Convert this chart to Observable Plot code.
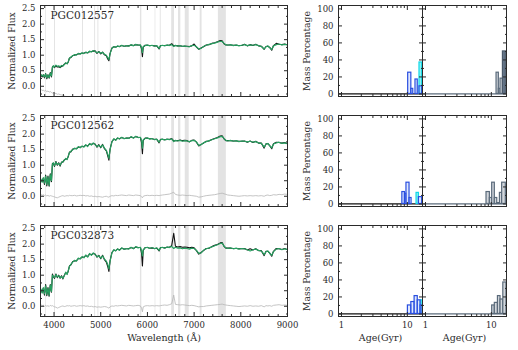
<!DOCTYPE html>
<html><head><meta charset="utf-8">
<script src="https://cdn.jsdelivr.net/npm/d3@7"></script>
<script src="https://cdn.jsdelivr.net/npm/@observablehq/plot@0.6"></script>
<style>
body{margin:0;background:#fff;}
#fig{position:relative;width:518px;height:350px;overflow:hidden;font-family:"DejaVu Serif",serif;}
</style></head><body><div id="fig"></div>
<script>
// ---------- data ----------
const galaxyNames = ["PGC012557", "PGC012562", "PGC032873"];
const waveTicks = [4000, 5000, 6000, 7000, 8000, 9000];
const fluxTicks = [0, 0.5, 1, 1.5, 2, 2.5];
const pctTicks = [0, 20, 40, 60, 80, 100];
const ageTicks = [1, 10];

const wave = [
 3720,3745,3770,3795,3820,3845,3870,3895,3920,3945,
 3965,3985,4010,4040,4070,4100,4130,4160,4190,4220,
 4250,4280,4305,4330,4360,4400,4440,4480,4520,4560,
 4600,4640,4680,4720,4760,4800,4840,4880,4920,4960,
 5000,5040,5080,5120,5150,5175,5200,5240,5280,5320,
 5360,5400,5450,5500,5550,5600,5650,5700,5750,5800,
 5850,5875,5893,5910,5950,6000,6050,6100,6150,6200,
 6250,6280,6320,6370,6420,6470,6520,6563,6600,6650,
 6700,6750,6800,6850,6900,6950,7000,7050,7100,7150,
 7200,7260,7320,7380,7440,7500,7560,7600,7640,7680,
 7720,7780,7840,7900,7960,8020,8080,8140,8200,8260,
 8320,8380,8440,8500,8540,8580,8620,8662,8700,8760,
 8820,8880,8940,9000];

const obs1 = [
 0.36,0.30,0.37,0.27,0.41,0.24,0.37,0.26,0.44,0.30,
 0.62,0.65,0.60,0.66,0.62,0.63,0.60,0.64,0.66,0.71,
 0.74,0.73,0.78,0.91,0.92,0.99,1.00,1.02,1.04,1.05,
 1.06,1.07,1.09,1.08,1.11,1.12,1.13,1.14,1.06,1.12,
 1.04,1.10,1.01,0.98,0.88,0.82,1.06,1.23,1.27,1.26,
 1.29,1.28,1.31,1.29,1.30,1.30,1.33,1.31,1.34,1.33,
 1.32,1.20,0.95,1.26,1.32,1.32,1.31,1.31,1.30,1.30,
 1.20,1.31,1.31,1.31,1.32,1.32,1.37,1.30,1.31,1.30,
 1.30,1.29,1.29,1.29,1.28,1.30,1.36,1.26,1.19,1.23,
 1.27,1.33,1.34,1.38,1.40,1.43,1.47,1.46,1.37,1.33,
 1.33,1.33,1.32,1.32,1.31,1.31,1.35,1.30,1.34,1.31,
 1.35,1.30,1.29,1.19,1.28,1.29,1.25,1.16,1.31,1.38,
 1.35,1.34,1.36,1.33];
const mod1 = [
 0.38,0.33,0.36,0.30,0.40,0.27,0.36,0.28,0.42,0.33,
 0.60,0.66,0.62,0.68,0.64,0.66,0.62,0.67,0.65,0.70,
 0.76,0.72,0.80,0.90,0.94,0.98,1.02,1.00,1.06,1.03,
 1.08,1.05,1.10,1.07,1.13,1.10,1.15,1.12,1.08,1.11,
 1.06,1.09,1.03,1.00,0.92,0.86,1.05,1.22,1.28,1.25,
 1.30,1.27,1.32,1.28,1.31,1.29,1.34,1.30,1.35,1.32,
 1.33,1.25,1.08,1.28,1.31,1.33,1.30,1.32,1.29,1.31,
 1.22,1.30,1.32,1.30,1.33,1.31,1.34,1.28,1.32,1.29,
 1.31,1.28,1.30,1.28,1.27,1.31,1.32,1.27,1.20,1.22,
 1.28,1.32,1.35,1.37,1.39,1.42,1.45,1.44,1.38,1.34,
 1.32,1.34,1.31,1.33,1.30,1.32,1.34,1.31,1.33,1.32,
 1.34,1.31,1.28,1.20,1.27,1.30,1.24,1.18,1.30,1.34,
 1.36,1.33,1.35,1.34];
const res1 = [
 -0.10,-0.14,-0.12,-0.16,-0.13,-0.18,-0.15,-0.19,-0.17,-0.20,
 -0.22,-0.21,-0.24,-0.23,-0.26,-0.25,-0.27,-0.28,-0.29,-0.31,
 -0.33,-0.34,-0.36,-0.38,-0.40,-0.42,-0.43,-0.44,-0.45,-0.45,
 -0.46,-0.47,-0.46,-0.48,-0.47,-0.49,-0.48,-0.47,-0.49,-0.48,
 -0.49,-0.48,-0.50,-0.49,-0.51,-0.52,-0.50,-0.48,-0.49,-0.48,
 -0.47,-0.48,-0.47,-0.46,-0.47,-0.48,-0.47,-0.46,-0.47,-0.46,
 -0.47,-0.50,-0.55,-0.48,-0.47,-0.46,-0.47,-0.46,-0.47,-0.46,
 -0.47,-0.46,-0.45,-0.44,-0.45,-0.44,-0.43,-0.42,-0.44,-0.45,
 -0.44,-0.45,-0.44,-0.45,-0.46,-0.45,-0.44,-0.46,-0.48,-0.47,
 -0.46,-0.45,-0.44,-0.43,-0.42,-0.41,-0.40,-0.40,-0.42,-0.44,
 -0.45,-0.46,-0.45,-0.46,-0.47,-0.46,-0.45,-0.46,-0.45,-0.46,
 -0.45,-0.46,-0.45,-0.48,-0.46,-0.45,-0.47,-0.48,-0.45,-0.44,
 -0.43,-0.44,-0.43,-0.44];

const obs2 = [
 0.52,0.48,0.58,0.38,0.68,0.33,0.65,0.32,0.72,0.47,
 1.05,1.06,0.96,1.12,1.00,1.08,0.97,1.10,1.10,1.17,
 1.20,1.20,1.28,1.42,1.43,1.52,1.53,1.54,1.58,1.58,
 1.60,1.60,1.64,1.62,1.68,1.67,1.70,1.68,1.58,1.66,
 1.56,1.67,1.53,1.46,1.30,1.16,1.52,1.76,1.84,1.81,
 1.87,1.85,1.89,1.86,1.87,1.87,1.91,1.88,1.92,1.90,
 1.89,1.72,1.37,1.80,1.87,1.87,1.85,1.85,1.83,1.83,
 1.72,1.83,1.83,1.82,1.83,1.83,1.86,1.78,1.79,1.79,
 1.81,1.79,1.80,1.79,1.75,1.80,1.81,1.74,1.62,1.67,
 1.71,1.77,1.78,1.83,1.86,1.89,1.94,1.95,1.85,1.79,
 1.79,1.79,1.78,1.78,1.77,1.77,1.78,1.74,1.78,1.73,
 1.77,1.71,1.71,1.55,1.69,1.69,1.63,1.53,1.69,1.74,
 1.73,1.71,1.73,1.69];
const mod2 = [
 0.55,0.45,0.60,0.42,0.65,0.38,0.62,0.35,0.70,0.50,
 1.02,1.08,0.98,1.10,1.02,1.06,1.00,1.08,1.12,1.15,
 1.22,1.18,1.30,1.40,1.45,1.50,1.55,1.52,1.60,1.56,
 1.62,1.58,1.66,1.60,1.70,1.65,1.72,1.66,1.60,1.64,
 1.58,1.65,1.55,1.48,1.35,1.22,1.50,1.75,1.85,1.80,
 1.88,1.84,1.90,1.85,1.88,1.86,1.92,1.87,1.93,1.89,
 1.90,1.80,1.55,1.82,1.86,1.88,1.84,1.86,1.82,1.84,
 1.74,1.82,1.84,1.81,1.84,1.82,1.85,1.76,1.80,1.78,
 1.80,1.77,1.79,1.78,1.76,1.79,1.80,1.75,1.64,1.66,
 1.72,1.76,1.79,1.82,1.85,1.88,1.92,1.93,1.86,1.80,
 1.78,1.80,1.77,1.79,1.76,1.78,1.77,1.75,1.77,1.74,
 1.76,1.72,1.70,1.58,1.68,1.70,1.62,1.56,1.68,1.72,
 1.74,1.70,1.72,1.70];
const res2 = [
 0.06,0.03,0.05,0.02,0.04,0.01,0.03,0.00,0.02,0.01,
 0.00,-0.01,-0.02,-0.04,-0.05,-0.03,-0.01,0.01,0.02,0.00,
 0.01,0.02,0.01,0.03,0.02,0.02,0.03,0.01,0.02,0.03,
 0.02,0.03,0.01,0.02,0.00,0.01,-0.01,0.00,-0.02,-0.01,
 -0.02,-0.03,-0.01,0.00,-0.02,-0.03,0.00,0.02,0.01,0.03,
 0.02,0.03,0.04,0.03,0.02,0.04,0.03,0.02,0.04,0.03,
 0.02,-0.02,-0.05,0.00,0.02,0.03,0.02,0.03,0.02,0.03,
 0.02,0.03,0.04,0.05,0.06,0.07,0.10,0.13,0.06,0.04,
 0.03,0.04,0.03,0.02,0.03,0.02,0.01,0.00,-0.03,-0.02,
 0.00,0.02,0.03,0.04,0.05,0.07,0.09,0.10,0.08,0.06,
 0.04,0.03,0.02,0.01,0.00,0.01,0.02,0.01,0.02,0.01,
 0.02,0.01,0.02,0.00,0.03,0.04,0.02,0.03,0.05,0.04,
 0.06,0.05,0.07,0.06];

const obs3 = [
 0.52,0.45,0.58,0.36,0.70,0.34,0.60,0.32,0.70,0.45,
 1.04,0.95,0.90,1.04,0.92,1.00,0.90,0.98,0.88,1.00,
 1.08,1.04,1.13,1.30,1.33,1.44,1.46,1.47,1.53,1.54,
 1.58,1.58,1.63,1.60,1.68,1.66,1.70,1.68,1.58,1.64,
 1.53,1.64,1.50,1.42,1.28,1.12,1.47,1.73,1.81,1.79,
 1.84,1.81,1.87,1.84,1.85,1.85,1.89,1.86,1.91,1.89,
 1.89,1.70,1.30,1.80,1.89,1.89,1.87,1.88,1.86,1.87,
 1.78,1.89,1.89,1.88,1.90,1.90,1.95,2.35,1.93,1.91,
 1.92,1.90,1.91,1.90,1.88,1.90,1.88,1.79,1.68,1.73,
 1.79,1.86,1.87,1.92,1.96,1.99,2.04,2.05,1.93,1.87,
 1.87,1.87,1.86,1.86,1.85,1.85,1.86,1.81,1.85,1.81,
 1.85,1.79,1.79,1.63,1.77,1.77,1.71,1.61,1.77,1.86,
 1.85,1.83,1.86,1.82];
const mod3 = [
 0.55,0.42,0.60,0.40,0.66,0.38,0.58,0.35,0.68,0.48,
 1.00,0.96,0.92,1.02,0.94,0.98,0.92,0.96,0.90,0.98,
 1.10,1.02,1.15,1.28,1.35,1.42,1.48,1.45,1.55,1.52,
 1.60,1.56,1.65,1.58,1.70,1.64,1.72,1.66,1.60,1.62,
 1.55,1.62,1.52,1.45,1.35,1.20,1.45,1.72,1.82,1.78,
 1.85,1.80,1.88,1.83,1.86,1.84,1.90,1.85,1.92,1.88,
 1.90,1.78,1.62,1.82,1.88,1.90,1.86,1.89,1.85,1.88,
 1.80,1.88,1.90,1.87,1.91,1.89,1.93,1.86,1.90,1.87,
 1.88,1.85,1.87,1.86,1.84,1.87,1.86,1.80,1.70,1.72,
 1.80,1.85,1.88,1.91,1.95,1.98,2.02,2.03,1.94,1.88,
 1.86,1.88,1.85,1.87,1.84,1.86,1.85,1.82,1.78,1.82,
 1.84,1.80,1.78,1.66,1.76,1.78,1.70,1.64,1.76,1.84,
 1.86,1.82,1.85,1.83];
const res3 = [
 0.05,0.02,0.04,-0.01,0.03,0.00,0.02,-0.01,0.03,0.01,
 0.02,0.00,-0.02,-0.03,-0.06,-0.04,-0.02,0.00,0.01,-0.01,
 0.00,0.02,0.01,0.02,0.00,0.01,0.02,0.00,0.01,0.02,
 0.01,0.02,0.00,0.01,-0.01,0.00,-0.02,-0.01,-0.03,-0.02,
 -0.03,-0.02,-0.01,-0.02,-0.04,-0.06,-0.02,0.01,0.00,0.02,
 0.01,0.02,0.03,0.02,0.01,0.03,0.02,0.01,0.02,0.03,
 0.01,-0.06,-0.18,-0.02,0.01,0.02,0.01,0.02,0.01,0.02,
 0.01,0.02,0.03,0.04,0.03,0.05,0.08,0.36,0.06,0.05,
 0.04,0.05,0.04,0.03,0.02,0.03,0.02,0.00,-0.02,-0.01,
 -0.01,0.01,0.02,0.03,0.04,0.05,0.06,0.07,0.05,0.04,
 0.03,0.02,0.01,0.00,-0.01,0.00,0.01,0.00,0.02,0.00,
 0.01,0.00,0.02,-0.02,0.02,0.01,0.02,0.00,0.03,0.04,
 0.05,0.03,0.04,0.03];

// masked wavelength windows (Angstrom)
const maskLo = [3820,4010,4610,4870,4940,5205,5850,6165,6275,6520,6665,6810,7130,7520];
const maskHi = [3835,4030,4630,4890,4960,5225,5880,6180,6295,6580,6715,6895,7170,7690];

// mass fractions: [age low (Gyr), age high (Gyr), mass %]
const blue1 = [[10.3,11.5,25],[11.5,12.3,6],[13.3,14.4,17],[15.3,16.8,9]];
const cyan1 = [[15.3,16.8,37]];
const gray1 = [[12.0,13.0,25],[13.0,13.8,6],[13.8,15.0,18]];
const dark1 = [[15.0,16.6,50]];
const blue2 = [[8.4,9.2,14],[9.2,9.7,12],[9.7,10.8,25],[10.8,11.6,7],[15.0,16.8,8]];
const cyan2 = [[13.8,15.0,13]];
const gray2 = [[8.45,9.5,14],[9.5,10.3,7],[10.3,11.3,25],[11.3,12.3,7],[12.3,13.5,1],[13.5,14.6,13],[14.6,16.6,25]];
const dark2 = [];
const blue3 = [[10.2,11.5,10],[11.5,12.9,14],[12.9,14.4,21],[14.4,15.9,16],[15.9,17.0,10]];
const cyan3 = [[15.9,17.0,16]];
const gray3 = [[10.3,11.3,10],[11.3,12.6,13],[12.6,13.8,21],[13.8,15.2,17],[15.2,17.0,37]];
const dark3 = [];

// ---------- drawing ----------
const fig = document.getElementById("fig");
const FONT = "DejaVu Serif";
const INK = "#2a2a2a";
function place(el, left, top) {
  el.style.position = "absolute";
  el.style.left = left + "px";
  el.style.top = top + "px";
  fig.appendChild(el);
}
const baseStyle = {fontFamily: FONT, fontSize: "9.2px", color: INK, background: "none", overflow: "visible"};
const tops = [0, 110, 220];
const FH = 91;

function tickAxis(kind, anchor, values, size) {
  const f = kind === "x" ? Plot.axisX : Plot.axisY;
  return f({ticks: values, anchor, tickSize: -size, fill: "none", tickFormat: () => "", label: null, stroke: INK});
}
function yTitle(text, offset) {
  return Plot.axisY({ticks: [], anchor: "left", tickSize: 0, label: text, labelAnchor: "center", labelArrow: "none", labelOffset: offset, fill: INK});
}

const minorWave = d3.range(3800, 9001, 200).filter(v => v % 1000 !== 0);
const minorFlux = [-0.25, 0.25, 0.75, 1.25, 1.75, 2.25];
const minorPct = [10, 30, 50, 70, 90];
const minorAge = [2, 3, 4, 5, 6, 7, 8, 9];

const spectra = [
  {name: galaxyNames[0], obs: obs1, mod: mod1, res: res1},
  {name: galaxyNames[1], obs: obs2, mod: mod2, res: res2},
  {name: galaxyNames[2], obs: obs3, mod: mod3, res: res3}
];
const masks = maskLo.map((lo, j) => ({lo, hi: maskHi[j]}));

spectra.forEach((s, i) => {
  const last = i === 2;
  const mb = last ? 34 : 10;
  const rows = wave.map((w, j) => ({w, obs: s.obs[j], mod: s.mod[j], res: s.res[j]}));
  const marks = [
    Plot.rect(masks, {x1: "lo", x2: "hi", fill: "#e3e3e3"}),
    Plot.line(rows, {x: "w", y: "res", stroke: "#b5b5b5", strokeWidth: 0.8, clip: true}),
    Plot.line(rows, {x: "w", y: "obs", stroke: "#111", strokeWidth: 1.1, clip: true}),
    Plot.line(rows, {x: "w", y: "mod", stroke: "#27a060", strokeWidth: 1.2, clip: true}),
    Plot.text([s.name], {text: d => d, frameAnchor: "top-left", dx: 10, dy: 10, fontSize: 10.5, fill: INK, textAnchor: "start", lineAnchor: "middle"}),
    tickAxis("x", "bottom", waveTicks, 4), tickAxis("x", "top", waveTicks, 4),
    tickAxis("x", "bottom", minorWave, 2), tickAxis("x", "top", minorWave, 2),
    tickAxis("y", "left", fluxTicks, 4), tickAxis("y", "right", fluxTicks, 4),
    tickAxis("y", "left", minorFlux, 2), tickAxis("y", "right", minorFlux, 2),
    Plot.axisY({ticks: fluxTicks, anchor: "left", tickSize: 0, tickPadding: 5, label: null, tickFormat: d => d.toFixed(1), fill: INK, fontSize: 8.5}),
    yTitle("Normalized Flux", 32),
    Plot.frame({stroke: INK})
  ];
  if (last) {
    marks.push(Plot.axisX({ticks: waveTicks, anchor: "bottom", tickSize: 0, tickPadding: 5, label: null, tickFormat: d => String(d), fill: INK, fontSize: 8.5}));
    marks.push(Plot.text(["Wavelength (Å)"], {text: d => d, frameAnchor: "bottom", dy: 24, fontSize: 9.5, fill: INK}));
  }
  const p = Plot.plot({
    width: 290, height: 5 + FH + mb, marginLeft: 40, marginRight: 3, marginTop: 5, marginBottom: mb,
    style: baseStyle,
    x: {domain: [3710, 9000]}, y: {domain: [-0.33, 2.6]},
    marks
  });
  place(p, 0, tops[i]);
});

const hists = [
  {blue: blue1, cyan: cyan1, gray: gray1, dark: dark1},
  {blue: blue2, cyan: cyan2, gray: gray2, dark: dark2},
  {blue: blue3, cyan: cyan3, gray: gray3, dark: dark3}
];

function bars(data, fill, stroke) {
  return Plot.rect(data, {x1: d => d[0], x2: d => d[1], y1: 0, y2: d => d[2], fill, stroke, strokeWidth: 1.2});
}

hists.forEach((h, i) => {
  const last = i === 2;
  const mb = last ? 34 : 10;
  [0, 1].forEach(side => {
    const isLeft = side === 0;
    const marks = [
      Plot.ruleY([0], {stroke: isLeft ? "#111" : "#5b6b7b", strokeWidth: 1.2}),
    ];
    if (isLeft) {
      marks.push(bars(h.cyan, "#8ff2f2", "#10d8e8"));
      marks.push(bars(h.blue, "rgba(185,205,250,0.45)", "#2a4fe0"));
    } else {
      marks.push(bars(h.gray, "#d2d6db", "#5b6b7b"));
      marks.push(bars(h.dark, "#66768a", "#4c5a6a"));
    }
    marks.push(
      tickAxis("x", "bottom", ageTicks, 4), tickAxis("x", "top", ageTicks, 4),
      tickAxis("x", "bottom", minorAge, 2), tickAxis("x", "top", minorAge, 2),
      tickAxis("y", "left", pctTicks, 4), tickAxis("y", "right", pctTicks, 4),
      tickAxis("y", "left", minorPct, 2), tickAxis("y", "right", minorPct, 2),
      Plot.frame({stroke: INK})
    );
    if (isLeft) {
      marks.push(Plot.axisY({ticks: pctTicks, anchor: "left", tickSize: 0, tickPadding: 5, label: null, tickFormat: d => String(d), fill: INK, fontSize: 8.5}));
      marks.push(yTitle("Mass Percentage", 35));
    }
    if (last) {
      marks.push(Plot.axisX({ticks: ageTicks, anchor: "bottom", tickSize: 0, tickPadding: 5, label: null, tickFormat: d => String(d), fill: INK, fontSize: 8.5}));
      marks.push(Plot.text(["Age(Gyr)"], {text: d => d, frameAnchor: "bottom", dy: 24, fontSize: 9.5, fill: INK}));
    }
    const p = Plot.plot({
      width: isLeft ? 132 : 96, height: 5 + FH + mb,
      marginLeft: isLeft ? 48 : 0, marginRight: isLeft ? 0 : 12, marginTop: 5, marginBottom: mb,
      style: baseStyle,
      x: {type: "log", domain: [0.9, 17]}, y: {domain: [-3, 104]},
      marks
    });
    place(p, isLeft ? 290 : 422, tops[i]);
  });
});
</script></body></html>
